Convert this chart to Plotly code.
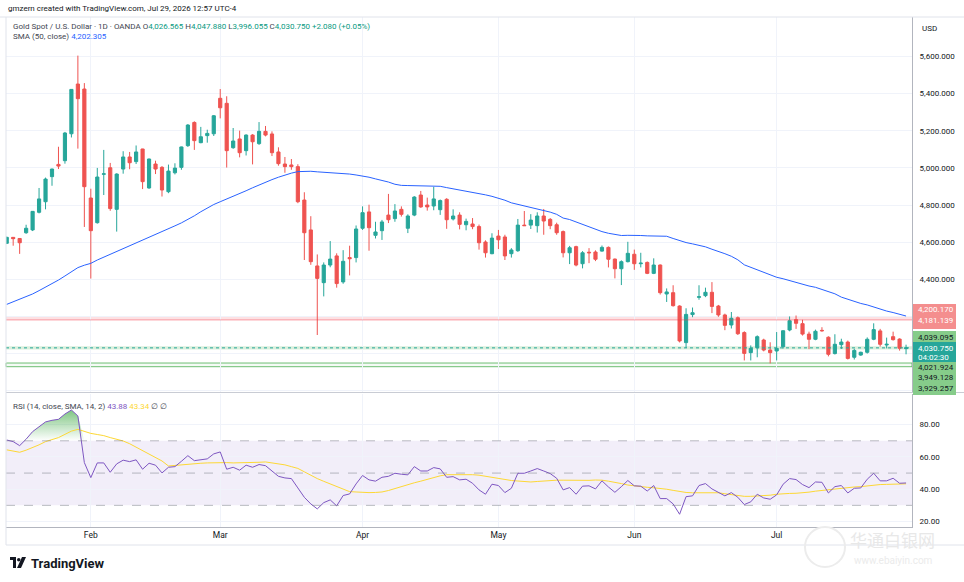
import pandas as pd
import plotly.graph_objects as go

# trading days shown (OANDA gold, Good Friday closed)
dates = [d.strftime("%Y-%m-%d") for d in pd.bdate_range("2026-01-14", "2026-07-29")
         if d.strftime("%Y-%m-%d") != "2026-04-03"]

opens = [4594, 4626, 4620, 4651, 4666, 4761, 4818, 4953, 5019, 5039,
         5184, 5452, 5425, 4838, 4705, 4966, 5001, 4777, 4994, 5059,
         5034, 5102, 4892, 5021, 5003, 4872, 4974, 5003, 5120, 5245,
         5136, 5174, 5184, 5375, 5348, 5109, 5156, 5093, 5177, 5131,
         5197, 5183, 5086, 5021, 5016, 5007, 4827, 4666, 4472, 4382,
         4477, 4526, 4386, 4517, 4517, 4675, 4763, 4637, 4662, 4746,
         4727, 4777, 4675, 4746, 4854, 4800, 4795, 4775, 4831, 4725,
         4746, 4694, 4698, 4684, 4601, 4538, 4633, 4628, 4538, 4554,
         4692, 4692, 4689, 4741, 4723, 4694, 4657, 4543, 4576, 4484,
         4546, 4547, 4552, 4572, 4509, 4457, 4495, 4535, 4484, 4491,
         4432, 4477, 4321, 4328, 4256, 4059, 4210, 4303, 4312, 4330,
         4256, 4208, 4154, 4193, 4113, 4005, 4032, 4073, 4019, 4014,
         4037, 4127, 4183, 4161, 4105, 4077, 4125, 4088, 4000, 4048,
         4062, 3980, 3992, 4007, 4077, 4122, 4046, 4091, 4078, 4026.565]
highs = [4630, 4628, 4622, 4694, 4768, 4892, 4948, 4996, 5114, 5194,
         5425, 5605, 5457, 4888, 5000, 5097, 5027, 4971, 5090, 5086,
         5121, 5103, 5050, 5039, 5010, 5018, 5025, 5115, 5236, 5251,
         5221, 5206, 5285, 5425, 5386, 5215, 5201, 5181, 5182, 5247,
         5226, 5197, 5111, 5059, 5048, 5020, 4869, 4740, 4534, 4491,
         4606, 4540, 4557, 4581, 4690, 4793, 4802, 4710, 4720, 4860,
         4805, 4793, 4750, 4848, 4876, 4840, 4898, 4830, 4837, 4777,
         4761, 4727, 4730, 4695, 4610, 4648, 4666, 4640, 4568, 4725,
         4768, 4751, 4761, 4779, 4730, 4705, 4663, 4580, 4581, 4552,
         4568, 4556, 4582, 4577, 4512, 4502, 4602, 4560, 4543, 4496,
         4513, 4480, 4351, 4368, 4260, 4244, 4248, 4368, 4355, 4385,
         4262, 4215, 4224, 4200, 4120, 4044, 4098, 4080, 4061, 4116,
         4125, 4200, 4205, 4182, 4118, 4129, 4142, 4093, 4104, 4080,
         4070, 4025, 4010, 4087, 4163, 4133, 4086, 4118, 4082, 4047.880]
lows = [4590, 4581, 4537, 4645, 4660, 4755, 4777, 4904, 4994, 5023,
        5164, 5104, 4682, 4404, 4700, 4854, 4769, 4657, 4969, 4993,
        5021, 4886, 4888, 4967, 4846, 4864, 4965, 4990, 5113, 5097,
        5133, 5136, 5172, 5267, 5002, 5103, 5057, 5067, 5019, 5124,
        5170, 5064, 5012, 4974, 4990, 4810, 4504, 4478, 4100, 4308,
        4465, 4355, 4376, 4421, 4491, 4666, 4554, 4620, 4612, 4703,
        4710, 4738, 4649, 4740, 4785, 4770, 4772, 4747, 4672, 4717,
        4669, 4664, 4670, 4560, 4517, 4535, 4563, 4504, 4517, 4548,
        4687, 4671, 4652, 4640, 4670, 4640, 4518, 4482, 4470, 4459,
        4487, 4498, 4549, 4464, 4405, 4369, 4491, 4451, 4464, 4428,
        4428, 4318, 4278, 4253, 4060, 4030, 4196, 4290, 4304, 4218,
        4198, 4126, 4135, 4100, 3963, 3963, 3980, 4012, 3947, 3963,
        4027, 4120, 4133, 4097, 4024, 4072, 4118, 3985, 3995, 4025,
        3968, 3968, 3988, 4000, 4072, 4038, 4028, 4070, 4016, 3996.055]
closes = [4626, 4619, 4597, 4675, 4766, 4833, 4940, 4994, 5010, 5188,
          5423, 5373, 4899, 4662, 4951, 4968, 4781, 4967, 5059, 5028,
          5086, 4926, 5048, 4994, 4881, 4983, 4999, 5113, 5231, 5147,
          5168, 5186, 5281, 5324, 5093, 5145, 5082, 5177, 5141, 5197,
          5177, 5082, 5023, 5007, 5007, 4818, 4651, 4495, 4405, 4477,
          4509, 4377, 4497, 4511, 4671, 4759, 4678, 4655, 4709, 4721,
          4768, 4750, 4741, 4843, 4790, 4790, 4833, 4824, 4721, 4741,
          4696, 4712, 4684, 4597, 4543, 4622, 4613, 4526, 4558, 4692,
          4689, 4719, 4741, 4714, 4689, 4651, 4543, 4570, 4477, 4543,
          4543, 4508, 4572, 4508, 4457, 4495, 4540, 4484, 4487, 4432,
          4477, 4328, 4332, 4258, 4068, 4211, 4220, 4306, 4330, 4254,
          4208, 4152, 4190, 4107, 4001, 4028, 4091, 4019, 4005, 4028,
          4123, 4177, 4163, 4105, 4077, 4120, 4123, 3996, 4050, 4062,
          3974, 4017, 4007, 4077, 4129, 4050, 4050, 4075, 4028.67, 4030.750]

sma50 = [4265, 4278, 4292, 4306, 4321, 4339, 4357, 4376, 4396, 4418,
         4441, 4463, 4476, 4486, 4504, 4519, 4535, 4549, 4564, 4580,
         4595, 4611, 4626, 4641, 4656, 4672, 4688, 4704, 4722, 4742,
         4764, 4784, 4803, 4818, 4832, 4845, 4860, 4877, 4893, 4909,
         4924, 4937, 4950, 4962, 4972, 4980, 4983, 4982, 4979, 4977,
         4975, 4973, 4970, 4967, 4962, 4958, 4950, 4941, 4934, 4924,
         4912, 4906, 4905, 4904, 4904, 4903, 4903, 4901, 4894, 4888,
         4883, 4877, 4871, 4864, 4855, 4847, 4837, 4826, 4812, 4804,
         4797, 4788, 4780, 4771, 4762, 4750, 4730, 4722, 4709, 4695,
         4682, 4668, 4657, 4648, 4640, 4636, 4637, 4638, 4636, 4634,
         4633, 4633, 4632, 4620, 4607, 4598, 4591, 4585, 4575, 4562,
         4551, 4538, 4524, 4505, 4478, 4465, 4449, 4436, 4424, 4411,
         4403, 4393, 4380, 4372, 4364, 4357, 4346, 4333, 4322, 4304,
         4292, 4281, 4270, 4262, 4251, 4238, 4229, 4221, 4213, 4202.305]

rsi = [70.5, 69.5, 67.0, 71.0, 75.7, 78.8, 81.7, 82.7, 83.3, 86.6,
       89.1, 85.4, 56.5, 47.2, 56.3, 56.3, 50.5, 55.7, 58.0, 57.1,
       58.2, 52.4, 56.1, 54.9, 50.1, 53.6, 54.0, 57.3, 60.8, 57.7,
       58.4, 58.8, 61.9, 63.1, 52.4, 53.6, 51.8, 54.9, 53.6, 55.3,
       54.6, 51.1, 48.0, 47.0, 46.6, 40.8, 35.0, 30.9, 27.8, 31.7,
       33.4, 29.7, 36.1, 37.1, 43.3, 48.5, 45.8, 45.0, 47.4, 48.0,
       49.9, 49.3, 48.9, 54.0, 51.3, 51.3, 53.4, 52.6, 47.4, 47.8,
       45.8, 46.2, 43.7, 39.6, 36.9, 43.1, 42.3, 37.9, 40.6, 49.9,
       49.9, 51.3, 52.8, 51.3, 49.7, 46.8, 39.6, 41.0, 36.9, 41.9,
       42.1, 40.2, 45.2, 41.4, 38.1, 41.6, 45.4, 42.1, 41.9, 38.9,
       42.3, 34.2, 34.2, 30.9, 24.5, 35.4, 35.9, 42.3, 43.5, 40.2,
       38.1, 35.9, 37.9, 35.0, 30.5, 32.2, 36.9, 34.6, 33.8, 36.5,
       43.1, 46.6, 46.0, 42.9, 41.0, 44.5, 44.3, 37.7, 41.6, 42.3,
       37.7, 40.6, 40.8, 46.2, 49.9, 45.2, 45.2, 46.8, 43.7, 43.88]
rsi_ma = [64.4, 63.8, 62.9, 64.2, 65.8, 67.5, 69.5, 70.6, 72.0, 74.0,
          76.0, 77.1, 75.7, 74.6, 73.9, 73.2, 72.0, 71.0, 69.9, 68.2,
          66.1, 64.0, 62.0, 60.0, 57.5, 54.4, 54.8, 55.3, 55.6, 55.9,
          56.1, 56.3, 56.5, 56.7, 56.5, 56.3, 56.3, 56.4, 56.5, 56.7,
          56.9, 56.4, 55.8, 55.1, 54.0, 52.9, 50.8, 48.6, 46.6, 44.9,
          43.4, 41.9, 40.0, 38.5, 38.3, 38.0, 37.9, 38.0, 38.3, 39.2,
          40.5, 41.6, 42.8, 44.0, 45.0, 46.2, 47.3, 48.3, 49.0, 49.1,
          49.1, 49.1, 49.0, 48.7, 48.0, 47.5, 46.8, 46.2, 45.4, 45.1,
          44.8, 44.5, 44.8, 45.2, 45.5, 45.6, 45.6, 45.5, 45.4, 45.4,
          45.5, 45.7, 45.6, 45.0, 44.4, 43.5, 42.6, 42.0, 41.6, 41.2,
          40.9, 40.6, 40.0, 39.3, 38.5, 38.0, 37.8, 37.8, 37.9, 38.0,
          37.8, 37.2, 36.6, 36.1, 35.6, 35.6, 35.8, 35.9, 36.3, 36.9,
          37.3, 37.4, 37.5, 37.7, 38.2, 38.8, 39.3, 39.8, 40.3, 40.8,
          41.2, 41.4, 41.6, 42.1, 42.6, 42.9, 43.0, 43.1, 43.2, 43.34]

month_ticks = ["2026-02-02", "2026-03-02", "2026-04-01", "2026-05-01", "2026-06-01", "2026-07-01"]
month_labels = ["Feb", "Mar", "Apr", "May", "Jun", "Jul"]
price_ticks = [3800, 4000, 4200, 4400, 4600, 4800, 5000, 5200, 5400, 5600]
price_labels = ["", "", ""] + [f"{v:,.3f}" for v in price_ticks[3:]]
rsi_ticks = [20, 40, 60, 80]

red_zone = (4181.139, 4200.170)
green_zone = (4021.924, 4039.095)
support_lines = (3929.257, 3949.128)
last_price = closes[-1]

GREEN = "#26a69a"
RED = "#ef5350"
GRID = "#f0f3fa"
TXT = "#131722"


# pixel -> paper helpers (plot area: x 6..912, y 17..527)
def px(x):
    return (x - 6) / 906


def py(y):
    return (527 - y) / 510


fig = go.Figure()

fig.add_trace(go.Candlestick(
    x=dates, open=opens, high=highs, low=lows, close=closes,
    increasing=dict(line=dict(color=GREEN, width=1), fillcolor=GREEN),
    decreasing=dict(line=dict(color=RED, width=1), fillcolor=RED),
    whiskerwidth=0, xaxis="x", yaxis="y", showlegend=False))

fig.add_trace(go.Scatter(x=dates, y=sma50, mode="lines", line=dict(color="#2962ff", width=1),
                         xaxis="x", yaxis="y", showlegend=False, hoverinfo="skip"))

# overbought gradient fill
fig.add_trace(go.Scatter(x=dates, y=[70] * len(dates), mode="lines", line=dict(width=0),
                         xaxis="x2", yaxis="y2", showlegend=False, hoverinfo="skip"))
fig.add_trace(go.Scatter(x=dates, y=[max(v, 70) for v in rsi], mode="lines", line=dict(width=0),
                         fill="tonexty",
                         fillgradient=dict(type="vertical", start=70, stop=90,
                                           colorscale=[[0, "rgba(76,175,80,0.0)"], [1, "rgba(76,175,80,0.75)"]]),
                         xaxis="x2", yaxis="y2", showlegend=False, hoverinfo="skip"))

fig.add_trace(go.Scatter(x=dates, y=rsi_ma, mode="lines", line=dict(color="#fdd835", width=1),
                         xaxis="x2", yaxis="y2", showlegend=False))
fig.add_trace(go.Scatter(x=dates, y=rsi, mode="lines", line=dict(color="#7e57c2", width=1),
                         xaxis="x2", yaxis="y2", showlegend=False))

shapes = []
# price zones
shapes.append(dict(type="rect", xref="x domain", yref="y", x0=0, x1=1, y0=red_zone[0], y1=red_zone[1],
                   fillcolor="rgba(242,54,69,0.15)", line=dict(width=0), layer="below"))
shapes.append(dict(type="line", xref="x domain", yref="y", x0=0, x1=1, y0=red_zone[0], y1=red_zone[0],
                   line=dict(color="rgba(242,54,69,0.45)", width=1)))
shapes.append(dict(type="rect", xref="x domain", yref="y", x0=0, x1=1, y0=green_zone[0], y1=green_zone[1],
                   fillcolor="rgba(76,175,80,0.2)", line=dict(width=0), layer="below"))
shapes.append(dict(type="line", xref="x domain", yref="y", x0=0, x1=1, y0=last_price, y1=last_price,
                   line=dict(color=GREEN, width=1, dash="dot")))
shapes.append(dict(type="rect", xref="x domain", yref="y", x0=0, x1=1, y0=support_lines[0], y1=support_lines[1],
                   fillcolor="rgba(76,175,80,0.06)", line=dict(color="rgba(76,175,80,0.8)", width=1), layer="below"))
# RSI band and levels
shapes.append(dict(type="rect", xref="x2 domain", yref="y2", x0=0, x1=1, y0=30, y1=70,
                   fillcolor="rgba(126,87,194,0.1)", line=dict(width=0), layer="below"))
for lvl in (70, 50, 30):
    shapes.append(dict(type="line", xref="x2 domain", yref="y2", x0=0, x1=1, y0=lvl, y1=lvl,
                       line=dict(color="rgba(120,123,134,0.5)", width=1, dash="dash")))
# frame / separators
shapes.append(dict(type="line", xref="paper", yref="paper", x0=px(0), x1=px(964), y0=1, y1=1,
                   line=dict(color="#e0e3eb", width=1)))
shapes.append(dict(type="line", xref="paper", yref="paper", x0=0, x1=px(964), y0=py(392.5), y1=py(392.5),
                   line=dict(color="#c9ccd4", width=1)))
shapes.append(dict(type="line", xref="paper", yref="paper", x0=0, x1=0, y0=py(545), y1=1,
                   line=dict(color="#e0e3eb", width=1)))
shapes.append(dict(type="line", xref="paper", yref="paper", x0=0, x1=px(964), y0=py(545), y1=py(545),
                   line=dict(color="#e0e3eb", width=1)))
# right-scale label boxes
shapes.append(dict(type="rect", xref="paper", yref="paper", x0=px(913), x1=px(956), y0=py(329), y1=py(304),
                   fillcolor="#f48e8e", line=dict(width=0)))
shapes.append(dict(type="rect", xref="paper", yref="paper", x0=px(913), x1=px(956), y0=py(395), y1=py(331),
                   fillcolor="#86cc8a", line=dict(width=0)))
shapes.append(dict(type="rect", xref="paper", yref="paper", x0=px(913), x1=px(956), y0=py(362), y1=py(342),
                   fillcolor=GREEN, line=dict(width=0)))
# TradingView logo
shapes.append(dict(type="path", xref="paper", yref="paper",
                   path=f"M {px(10)} {py(557)} L {px(16)} {py(557)} L {px(16)} {py(568)} L {px(13)} {py(568)} "
                        f"L {px(13)} {py(560)} L {px(10)} {py(560)} Z",
                   fillcolor=TXT, line=dict(width=0)))
shapes.append(dict(type="circle", xref="paper", yref="paper", x0=px(17), x1=px(20.5), y0=py(561.5), y1=py(558),
                   fillcolor=TXT, line=dict(width=0)))
shapes.append(dict(type="path", xref="paper", yref="paper",
                   path=f"M {px(22)} {py(557)} L {px(26)} {py(557)} L {px(21)} {py(568)} L {px(17)} {py(568)} Z",
                   fillcolor=TXT, line=dict(width=0)))
# watermark circle
shapes.append(dict(type="circle", xref="paper", yref="paper", x0=px(805), x1=px(845), y0=py(567), y1=py(527),
                   line=dict(color="#ececec", width=2)))

GREY = "#434651"
val = "#089981"
chg = closes[-1] - closes[-2]
pct = chg / closes[-2] * 100
legend1 = (f"<span style='color:{GREY}'>Gold Spot / U.S. Dollar · 1D · OANDA</span> "
           f"O<span style='color:{val}'>{opens[-1]:,.3f}</span> "
           f"H<span style='color:{val}'>{highs[-1]:,.3f}</span> "
           f"L<span style='color:{val}'>{lows[-1]:,.3f}</span> "
           f"C<span style='color:{val}'>{closes[-1]:,.3f}</span> "
           f"<span style='color:{val}'>{chg:+.3f} ({pct:+.2f}%)</span>")
legend2 = f"<span style='color:{GREY}'>SMA (50, close)</span> <span style='color:#2962ff'>{sma50[-1]:,.3f}</span>"
legend3 = (f"<span style='color:{GREY}'>RSI (14, close, SMA, 14, 2)</span> "
           f"<span style='color:#7e57c2'>{rsi[-1]:.2f}</span> "
           f"<span style='color:#fdd835'>{rsi_ma[-1]:.2f}</span> "
           f"<span style='color:{GREY}'>∅ ∅</span>")

annotations = [
    dict(x=px(6), y=py(8), text="gmzern created with TradingView.com, Jul 29, 2026 12:57 UTC-4",
         font=dict(size=8, color=TXT)),
    dict(x=px(11), y=py(26), text=legend1, font=dict(size=8, color=GREY)),
    dict(x=px(11), y=py(37), text=legend2, font=dict(size=8, color=GREY)),
    dict(x=px(11), y=py(406), text=legend3, font=dict(size=8, color=GREY)),
    dict(x=px(920), y=py(28), text="USD", font=dict(size=8, color=TXT)),
    dict(x=px(916), y=py(309.5), text=f"{red_zone[1]:,.3f}", font=dict(size=8, color="white")),
    dict(x=px(916), y=py(320), text=f"{red_zone[0]:,.3f}", font=dict(size=8, color="white")),
    dict(x=px(916), y=py(337.5), text=f"{green_zone[1]:,.3f}", font=dict(size=8, color=TXT)),
    dict(x=px(916), y=py(348), text=f"{last_price:,.3f}", font=dict(size=8, color="white")),
    dict(x=px(916), y=py(357.5), text="04:02:30", font=dict(size=8, color="white")),
    dict(x=px(916), y=py(367.5), text=f"{green_zone[0]:,.3f}", font=dict(size=8, color=TXT)),
    dict(x=px(916), y=py(378), text=f"{support_lines[1]:,.3f}", font=dict(size=8, color=TXT)),
    dict(x=px(916), y=py(388.5), text=f"{support_lines[0]:,.3f}", font=dict(size=8, color=TXT)),
    dict(x=px(29), y=py(563), text="<b>TradingView</b>", font=dict(size=13, color=TXT)),
    dict(x=px(848), y=py(539), text="华通白银网", font=dict(size=17, color="#e8e8e8",
                                                         family="Noto Sans CJK SC")),
    dict(x=px(852), y=py(560), text="www.ebaiyin.com", font=dict(size=10, color="#ebebeb")),
]
for a in annotations:
    a.update(xref="paper", yref="paper", xanchor="left", yanchor="middle", showarrow=False)

x_range = [-0.11, 139.92]

fig.update_layout(
    width=964, height=582,
    margin=dict(l=6, r=52, t=17, b=55),
    paper_bgcolor="white", plot_bgcolor="white",
    font=dict(family="Roboto, Liberation Sans, sans-serif", size=8, color=TXT),
    showlegend=False,
    hovermode="x",
    xaxis=dict(type="category", domain=[0, 1], anchor="y", range=x_range, matches="x2",
               tickvals=month_ticks, ticktext=month_labels, showticklabels=False,
               showgrid=True, gridcolor=GRID, zeroline=False, rangeslider=dict(visible=False)),
    yaxis=dict(domain=[py(392), 1], anchor="x", side="right", range=[3793, 5813],
               tickvals=price_ticks, ticktext=price_labels, showgrid=True, gridcolor=GRID,
               zeroline=False, showline=True, linecolor="#b2b5be", ticks="", ticklabelstandoff=5,
               tickfont=dict(size=8, color=TXT)),
    xaxis2=dict(type="category", domain=[0, 1], anchor="y2", range=x_range,
                tickvals=month_ticks, ticktext=month_labels, showgrid=True, gridcolor=GRID,
                zeroline=False, showline=True, linecolor="#b2b5be", ticks="",
                tickfont=dict(size=8.5, color=TXT)),
    yaxis2=dict(domain=[0, py(394)], anchor="x2", side="right", range=[16.6, 99.0],
                tickvals=rsi_ticks, ticktext=[f"{v:.2f}" for v in rsi_ticks], showgrid=True, gridcolor=GRID,
                zeroline=False, showline=True, linecolor="#b2b5be", ticks="", ticklabelstandoff=5,
                tickfont=dict(size=8, color=TXT)),
    shapes=shapes,
    annotations=annotations,
)

# remove the browser's default body margin so the page starts at the top-left corner
fig.write_html("out.html", config={"displayModeBar": False},
               post_script="document.body.style.margin='0px';")
